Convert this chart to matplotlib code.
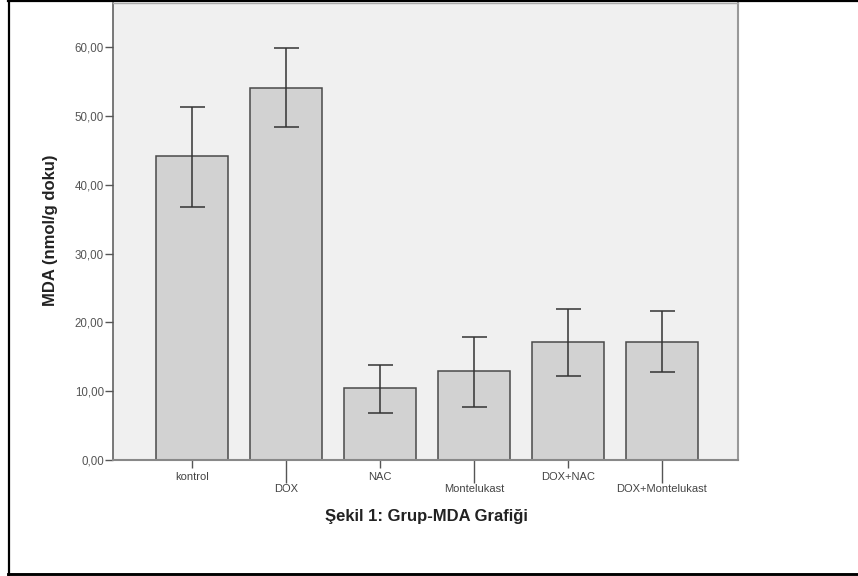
import matplotlib
matplotlib.use("Agg")
import matplotlib.pyplot as plt
from matplotlib.lines import Line2D
import numpy as np

categories = ["kontrol", "DOX", "NAC", "Montelukast", "DOX+NAC", "DOX+Montelukast"]
means = [44.1, 54.1, 10.4, 12.9, 17.2, 17.2]
err_low = [36.8, 48.4, 6.9, 7.7, 12.2, 12.8]
err_high = [51.3, 59.9, 13.8, 17.9, 21.9, 21.6]
yticks = [0, 10, 20, 30, 40, 50, 60]
ytick_labels = ["0,00", "10,00", "20,00", "30,00", "40,00", "50,00", "60,00"]
ylabel = "MDA (nmol/g doku)"
xlabel = "Şekil 1: Grup-MDA Grafiği"

plt.rcParams['font.family'] = ['Liberation Sans', 'DejaVu Sans']

W, H = 858, 576
fig = plt.figure(figsize=(W / 100, H / 100), dpi=100)
fig.patch.set_facecolor("white")

ax = fig.add_axes([113 / W, 1 - 460 / H, (738 - 113) / W, (460 - 3) / H])
ax.set_facecolor("#f0f0f0")

x = np.arange(len(categories))
m = np.array(means)
lo = m - np.array(err_low)
hi = np.array(err_high) - m
ax.bar(x, m, width=0.77, color="#d2d2d2", edgecolor="#4a4a4a", linewidth=1.1, zorder=2)
ax.errorbar(x, m, yerr=[lo, hi], fmt="none", ecolor="#333333", elinewidth=1.1,
            capsize=9, capthick=1.1, zorder=3)

ax.set_xlim(-0.84, 5.81)
ax.set_ylim(0, 66.4)
ax.set_yticks(yticks)
ax.set_yticklabels(ytick_labels, fontsize=8.3, color="#555555")
ax.tick_params(axis="y", length=5.5, width=1.0, color="#555555", pad=1)

even = [i for i in range(len(categories)) if i % 2 == 0]
odd = [i for i in range(len(categories)) if i % 2 == 1]
ax.set_xticks(even)
ax.set_xticklabels([categories[i] for i in even], fontsize=8, color="#444444")
ax.set_xticks(odd, minor=True)
ax.set_xticklabels([categories[i] for i in odd], minor=True, fontsize=8, color="#444444")
ax.tick_params(axis="x", which="major", length=6, width=1.0, color="#555555", pad=2.5)
ax.tick_params(axis="x", which="minor", length=16.5, width=1.0, color="#555555", pad=0.5)

ax.spines["left"].set_color("#555555")
ax.spines["left"].set_linewidth(1.1)
ax.spines["bottom"].set_color("#888888")
ax.spines["bottom"].set_linewidth(1.5)
ax.spines["right"].set_color("#999999")
ax.spines["right"].set_linewidth(1.5)
ax.spines["top"].set_color("#aaaaaa")
ax.spines["top"].set_linewidth(1.0)

fig.text(51 / W, 1 - 230 / H, ylabel, rotation=90, ha="center", va="center",
         fontsize=12, fontweight="bold", color="#222222")
fig.text(426 / W, 1 - 517 / H, xlabel, ha="center", va="center",
         fontsize=12, fontweight="bold", color="#222222")

# outer black frame (top, left, bottom)
lw = 1.6
fig.add_artist(Line2D([9 / W, 9 / W], [0, 1], transform=fig.transFigure, color="black", linewidth=lw))
fig.add_artist(Line2D([8 / W, 1], [1 - 1 / H, 1 - 1 / H], transform=fig.transFigure, color="black", linewidth=lw))
fig.add_artist(Line2D([8 / W, 1], [1 - 573.5 / H, 1 - 573.5 / H], transform=fig.transFigure, color="black", linewidth=lw * 1.3))

fig.savefig("out.png", dpi=100)
